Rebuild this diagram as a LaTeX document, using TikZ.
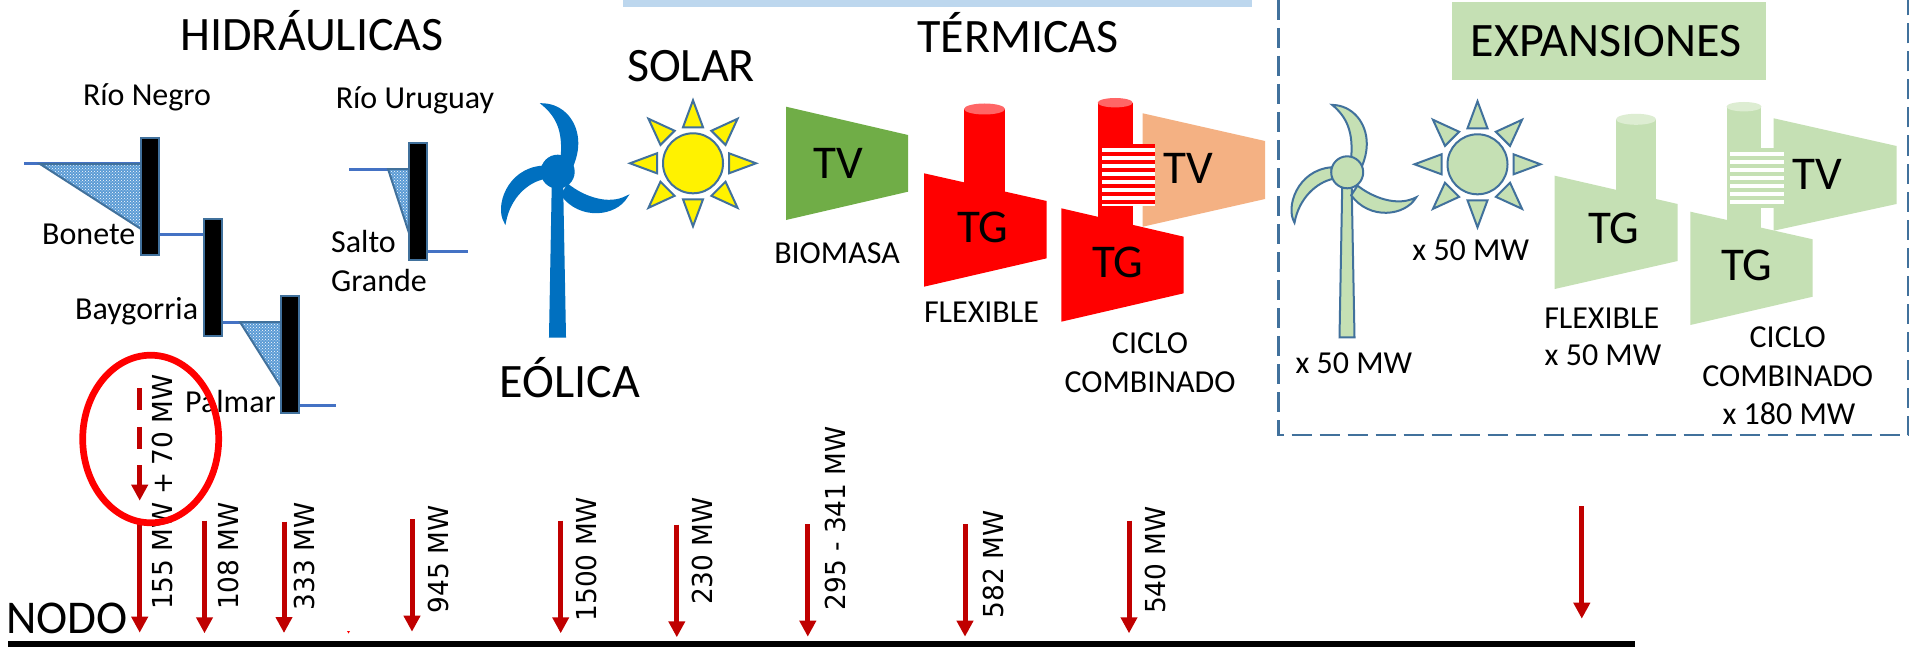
\documentclass[tikz,border=0pt]{standalone}
\usepackage{fontspec}
\setmainfont{Carlito}
\newfontfamily\ratedfont[FakeStretch=0.96]{DejaVu Sans}
\usetikzlibrary{arrows.meta,patterns}
\definecolor{steel}{HTML}{41719C}
\definecolor{water}{HTML}{4472C4}
\definecolor{windblue}{HTML}{0070C0}
\definecolor{newgreen}{HTML}{C5E0B4}
\definecolor{newcap}{HTML}{DDEDD2}
\definecolor{feedred}{HTML}{C00000}
\definecolor{steamgreen}{HTML}{70AD47}
\definecolor{steamorange}{HTML}{F4B183}
\definecolor{topbar}{HTML}{BDD7EE}
\definecolor{lakeblue}{HTML}{5B9BD5}
\definecolor{redcap}{HTML}{FF6666}
\tikzset{
  bigtext/.style={inner sep=0pt,anchor=base,font=\fontsize{48}{56}\selectfont},
  midtext/.style={inner sep=0pt,anchor=base,font=\fontsize{32}{38}\selectfont},
  unittext/.style={inner sep=0pt,anchor=center,font=\fontsize{47}{55}\selectfont},
  rating/.style={inner sep=0pt,anchor=base west,rotate=90,font=\ratedfont\fontsize{27.5}{32}\selectfont},
  dam/.style={fill=black,draw=steel,line width=2pt},
  riverline/.style={draw=water,line width=3pt},
  lake/.style={draw=steel,line width=2pt,preaction={fill=lakeblue},pattern=crosshatch dots,pattern color=white},
  feeder/.style={draw=feedred,line width=5pt,-{Triangle[length=16pt,width=16pt]}},
  outline/.style={draw=steel,line width=2pt}
}
% Wind turbine: hub at #1,#2, body colour #3, outline colour #4
\newcommand{\windturbine}[4]{%
  \begin{scope}[shift={(#1,#2)}]
    \path[fill=#3,draw=#4,line width=2pt] (-5,15) -- (4.5,15) -- (7.3,165) -- (-7.7,165) -- cycle;
    \path[fill=#3,draw=#4,line width=2pt] (-15,-67.4) .. controls (5,-67) and (19.6,-50) .. (19.6,-28.4)
      .. controls (19.6,-18) and (16,-8) .. (12,0) -- (4,-15)
      .. controls (6,-40) and (0,-55) .. (-15,-67.4) -- cycle;
    \path[fill=#3,draw=#4,line width=2pt] (-52.7,50.3) .. controls (-62,35) and (-50,-2) .. (-16,-5)
      -- (-14.4,6.6) .. controls (-30,10) and (-48,25) .. (-52.7,50.3) -- cycle;
    \path[fill=#3,draw=#4,line width=2pt] (69,25) .. controls (58,44) and (22,48) .. (4,23)
      -- (10.3,13.3) .. controls (25,25) and (50,35) .. (69,25) -- cycle;
    \path[fill=#3,draw=#4,line width=2pt] (0,0) circle[radius=16];
  \end{scope}}
% Sun: centre at #1,#2, fill colour #3
\newcommand{\sunburst}[3]{%
  \begin{scope}[shift={(#1,#2)}]
    \foreach \ang in {0,45,...,315}{
      \path[rotate=\ang,fill=#3,outline] (63,0) -- (36,10) -- (36,-10) -- cycle;
    }
    \path[fill=#3,outline] (0,0) circle[radius=30];
  \end{scope}}
% Striped heat-recovery block: corners #1,#2 to #3,#4, stripe colour #5
\newcommand{\stripeblock}[5]{%
  \fill[white] (#1,#2) rectangle (#3,#4);
  \foreach \k in {0,...,7}{
    \fill[#5] (#1,{#2+\k*8}) rectangle (#3,{#2+\k*8+4});
  }}
\begin{document}
\begin{tikzpicture}[x=1pt,y=-1pt]
\useasboundingbox (0,0) rectangle (1911,650);
\fill[white] (0,0) rectangle (1911,650);

% Top bar and expansion frame
\fill[topbar] (623,0) rectangle (1252,7);
\draw[steel,line width=2.4pt,dash pattern=on 20pt off 8pt] (1278.5,0) -- (1278.5,435) -- (1908,435) -- (1908,0);
\fill[newgreen] (1452,2) rectangle (1766,80);

% Section headings
\node[bigtext] (hydro) at (312,51) {HIDRÁULICAS};
\node[bigtext] (solar) at (691,82) {SOLAR};
\node[bigtext] (wind) at (570,397) {EÓLICA};
\node[bigtext] (thermal) at (1018,53) {TÉRMICAS};
\node[bigtext] (expansion) at (1606,57) {EXPANSIONES};
\node[midtext] (negro) at (147,106) {Río Negro};
\node[midtext] (uruguay) at (415,109) {Río Uruguay};

% Río Negro cascade
\draw[riverline] (24,163.5) -- (141,163.5);
\path[lake] (40,164) -- (141,164) -- (141,229) -- cycle;
\draw[riverline] (160,234) -- (204,234);
\draw[riverline] (222,322) -- (281,322);
\path[lake] (240,322) -- (281,322) -- (281,387) -- cycle;
\draw[riverline] (299,405) -- (336,405);
\path[dam] (141,138) rectangle (158.5,255);
\path[dam] (204,219) rectangle (222,336);
\path[dam] (281,296) rectangle (299,413);
\node[midtext,anchor=base west] (bonete) at (42,244) {Bonete};
\node[midtext,anchor=base west] (baygorria) at (75,319) {Baygorria};
\node[midtext,anchor=base west] (palmar) at (185,412) {Palmar};

% Río Uruguay plant
\draw[riverline] (349,169) -- (409,169);
\path[lake] (388,169) -- (409,169) -- (409,233) -- cycle;
\draw[riverline] (427,251) -- (468,251);
\path[dam] (409,143) rectangle (427,260);
\node[midtext,anchor=base west] (salto) at (331,252) {Salto};
\node[midtext,anchor=base west] (grande) at (331,291) {Grande};

% Existing wind and solar
\windturbine{557.7}{171.7}{windblue}{windblue}
\sunburst{693}{163.3}{yellow}

% Biomass steam turbine
\fill[steamgreen] (786,106.7) -- (908,135) -- (908,191.7) -- (786,220) -- cycle;
\node[unittext] (tvbio) at (838,163) {TV};
\node[midtext] (biomasa) at (837,263) {BIOMASA};

% Flexible gas turbine
\fill[red] (964,109) rectangle (1005,200);
\fill[redcap] (984.5,109) ellipse[x radius=20.5,y radius=5.5];
\fill[red] (924,173.3) -- (1046.7,201) -- (1046.7,258.3) -- (924,286.7) -- cycle;
\node[unittext] (tgflex) at (983,227) {TG};
\node[midtext] (flex) at (981.5,322.7) {FLEXIBLE};

% Combined cycle
\fill[steamorange] (1142.7,113.3) -- (1265,141) -- (1265,199) -- (1142.7,226.7) -- cycle;
\fill[red] (1097.7,102.7) rectangle (1132.7,230);
\fill[redcap] (1115.2,102.7) ellipse[x radius=17.5,y radius=4.7];
\fill[red] (1061.3,208.3) -- (1183.7,236.7) -- (1183.7,293.3) -- (1061.3,321.7) -- cycle;
\stripeblock{1102}{144}{1155}{205.7}{red}
\node[unittext] (tvcc) at (1188,168) {TV};
\node[unittext] (tgcc) at (1118,262) {TG};
\node[midtext] (ciclo) at (1150,353) {CICLO};
\node[midtext] (combinado) at (1150,392.7) {COMBINADO};

% Candidate wind and solar
\windturbine{1347.2}{172.3}{newgreen}{steel}
\sunburst{1477.5}{164.3}{newgreen}
\node[midtext] (xwind) at (1353.8,373) {x 50 MW};
\node[midtext] (xsolar) at (1470.7,260.7) {x 50 MW};

% Candidate flexible gas turbine
\fill[newgreen] (1616,119.3) rectangle (1656,200);
\fill[newcap] (1636,119.3) ellipse[x radius=20,y radius=5.5];
\fill[newgreen] (1554.7,175.7) -- (1677.6,204) -- (1677.6,261) -- (1554.7,289) -- cycle;
\node[unittext] (tgnew) at (1614,228) {TG};
\node[midtext] (flexnew) at (1601.7,328) {FLEXIBLE};
\node[midtext] (xflex) at (1603,365.7) {x 50 MW};

% Candidate combined cycle
\fill[newgreen] (1773.7,118.3) -- (1896.5,146) -- (1896.5,204) -- (1773.7,230.7) -- cycle;
\fill[newgreen] (1726.5,106.7) rectangle (1761.4,235);
\fill[newcap] (1744,106.7) ellipse[x radius=17.5,y radius=4.7];
\fill[newgreen] (1690.3,211.7) -- (1812.7,239.3) -- (1812.7,296.7) -- (1690.3,325) -- cycle;
\stripeblock{1730}{147.7}{1783.6}{208.3}{newgreen}
\node[unittext] (tvcand) at (1817.3,174.3) {TV};
\node[unittext] (tgcand) at (1746.6,265.7) {TG};
\node[midtext] (ciclonew) at (1787.7,347.7) {CICLO};
\node[midtext] (combnew) at (1787.7,386.7) {COMBINADO};
\node[midtext] (xcc) at (1789,424) {x 180 MW};

% Busbar and its feeders
\fill[black] (8,640.7) rectangle (1635,646.7);
\node[inner sep=0pt,anchor=base,font=\fontsize{47}{55}\selectfont] (nodo) at (67,633) {NODO};
\foreach \x/\top/\tip in {139.7/522/632.7,204.5/520.7/633.3,284/521.7/633,412/519/631.7,
  560.7/520.7/633.3,676.8/524.7/637.3,807.8/524.3/636.7,965/524.3/636.7,1129/520.7/633.3,1581.8/506/618.7}{
  \draw[feeder] (\x,\top) -- (\x,\tip);
}
\draw[feeder,dash pattern=on 22pt off 16.5pt] (139.7,388.3) -- (139.7,500.7);
\fill[red] (347,631) -- (350,631) -- (348.5,633.5) -- cycle;

% Rated power labels
\node[rating] (r155) at (172,610) {155 MW\hspace{-1pt} +\hspace{-1pt} 70 MW};
\node[rating] (r108) at (238.8,610) {108 MW};
\node[rating] (r333) at (314.7,610.7) {333 MW};
\node[rating] (r945) at (448.7,613.3) {945 MW};
\node[rating] (r1500) at (596.9,621.7) {1500 MW};
\node[rating] (r230) at (712,605) {230 MW};
\node[rating] (r295) at (845.7,610.7) {295 - 341 MW};
\node[rating] (r582) at (1003,618.3) {582 MW};
\node[rating] (r540) at (1165.4,614) {540 MW};

% Highlight ring around the hydro feeder
\draw[red,line width=6.7pt] (150.7,439) ellipse[x radius=68,y radius=83.8];
\end{tikzpicture}
\end{document}
